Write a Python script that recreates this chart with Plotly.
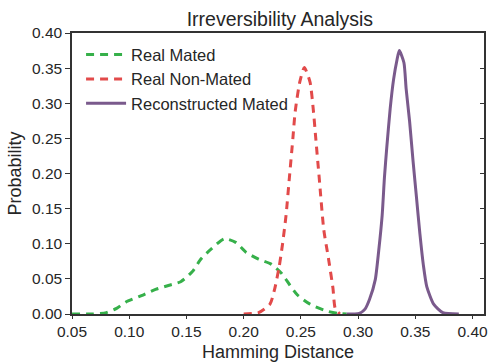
import plotly.graph_objects as go

# Real Mated
mated_x = [0.050, 0.068, 0.080, 0.089, 0.097, 0.109, 0.123, 0.135, 0.145, 0.155, 0.163, 0.172, 0.183,
           0.193, 0.202, 0.213, 0.224, 0.233, 0.240, 0.247, 0.258, 0.273, 0.282, 0.290]
mated_y = [0.000, 0.000, 0.002, 0.008, 0.017, 0.025, 0.035, 0.041, 0.046, 0.060, 0.079, 0.093, 0.107,
           0.102, 0.088, 0.078, 0.071, 0.058, 0.042, 0.027, 0.014, 0.004, 0.001, 0.000]

# Real Non-Mated
nonmated_x = [0.200, 0.213, 0.223, 0.227, 0.231, 0.234, 0.237, 0.240, 0.243, 0.245, 0.249, 0.253,
              0.258, 0.261, 0.263, 0.266, 0.270, 0.274, 0.278, 0.280, 0.284]
nonmated_y = [0.000, 0.002, 0.014, 0.035, 0.067, 0.100, 0.140, 0.195, 0.250, 0.288, 0.330, 0.351,
              0.330, 0.288, 0.250, 0.194, 0.120, 0.080, 0.037, 0.008, 0.000]

# Reconstructed Mated
recon_x = [0.290, 0.301, 0.306, 0.310, 0.315, 0.318, 0.321, 0.323, 0.325, 0.328, 0.331, 0.334, 0.336,
           0.340, 0.342, 0.345, 0.348, 0.351, 0.354, 0.357, 0.360, 0.366, 0.374, 0.388]
recon_y = [0.000, 0.001, 0.007, 0.021, 0.049, 0.090, 0.140, 0.194, 0.236, 0.292, 0.334, 0.362, 0.375,
           0.358, 0.320, 0.274, 0.218, 0.166, 0.114, 0.070, 0.039, 0.014, 0.002, 0.000]

x_ticks = [0.05, 0.10, 0.15, 0.20, 0.25, 0.30, 0.35, 0.40]
y_ticks = [0.00, 0.05, 0.10, 0.15, 0.20, 0.25, 0.30, 0.35, 0.40]

FONT = "Liberation Sans, Arial, sans-serif"
TXT = "#262626"

fig = go.Figure()
fig.add_trace(go.Scatter(x=mated_x, y=mated_y, mode="lines", name="Real Mated",
                         line=dict(color="#36b04a", width=3, dash="8px,6px", shape="spline", smoothing=0.6)))
fig.add_trace(go.Scatter(x=nonmated_x, y=nonmated_y, mode="lines", name="Real Non-Mated",
                         line=dict(color="#e24a4a", width=3, dash="8px,6px", shape="spline", smoothing=0.6)))
fig.add_trace(go.Scatter(x=recon_x, y=recon_y, mode="lines", name="Reconstructed Mated",
                         line=dict(color="#7a5a8c", width=3, shape="spline", smoothing=0.6)))
# invisible trace for right-hand inward ticks
fig.add_trace(go.Scatter(x=[0.05], y=[0], yaxis="y2", mode="lines", showlegend=False,
                         hoverinfo="skip", line=dict(width=0)))

fig.update_layout(
    width=491, height=362,
    margin=dict(l=72, r=3, t=33, b=44),
    paper_bgcolor="white", plot_bgcolor="white",
    font=dict(family=FONT, color=TXT, size=15.5),
    title=dict(text="Irreversibility Analysis", x=0.57, xanchor="center", y=0.948, yanchor="middle",
               font=dict(size=19.5, family=FONT, color=TXT)),
    showlegend=True,
    legend=dict(x=0.022, y=0.985, xanchor="left", yanchor="top", bgcolor="rgba(0,0,0,0)",
                font=dict(size=16.5, family=FONT, color=TXT), tracegroupgap=0, itemwidth=40),
    xaxis=dict(range=[0.05, 0.41], tickvals=x_ticks, tickformat=".2f", showgrid=False, zeroline=False,
               showline=True, linecolor="#333333", linewidth=1.5, mirror=True,
               ticks="outside", ticklen=3, tickcolor="#333333",
               title=dict(text="Hamming Distance", font=dict(size=18, family=FONT, color=TXT), standoff=6)),
    yaxis=dict(range=[0, 0.40], tickvals=y_ticks, tickformat=".2f", showgrid=False, zeroline=False,
               showline=True, linecolor="#333333", linewidth=1.5, mirror=True,
               ticks="outside", ticklen=5, tickcolor="#333333",
               title=dict(text="Probability", font=dict(size=18, family=FONT, color=TXT), standoff=6)),
    yaxis2=dict(range=[0, 0.40], tickvals=y_ticks, overlaying="y", side="right", showgrid=False,
                zeroline=False, showticklabels=False, ticks="inside", ticklen=4, tickcolor="#333333",
                showline=False),
)

fig.write_html("out.html")
